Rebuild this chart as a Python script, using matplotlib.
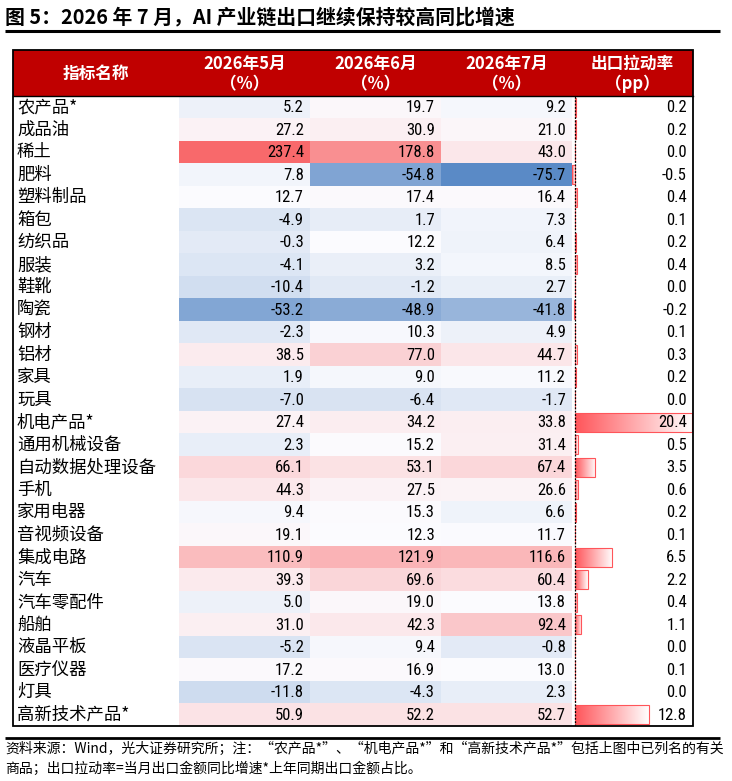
import numpy as np
import matplotlib
matplotlib.use('Agg')
import matplotlib.pyplot as plt
from matplotlib import font_manager as fm
from matplotlib.colors import LinearSegmentedColormap, TwoSlopeNorm
from matplotlib.patches import Rectangle

# ---------------- data ----------------
names = ['农产品*', '成品油', '稀土', '肥料', '塑料制品', '箱包', '纺织品', '服装', '鞋靴',
         '陶瓷', '钢材', '铝材', '家具', '玩具', '机电产品*', '通用机械设备', '自动数据处理设备',
         '手机', '家用电器', '音视频设备', '集成电路', '汽车', '汽车零配件', '船舶', '液晶平板',
         '医疗仪器', '灯具', '高新技术产品*']
may = [5.2, 27.2, 237.4, 7.8, 12.7, -4.9, -0.3, -4.1, -10.4, -53.2, -2.3, 38.5, 1.9, -7.0,
       27.4, 2.3, 66.1, 44.3, 9.4, 19.1, 110.9, 39.3, 5.0, 31.0, -5.2, 17.2, -11.8, 50.9]
jun = [19.7, 30.9, 178.8, -54.8, 17.4, 1.7, 12.2, 3.2, -1.2, -48.9, 10.3, 77.0, 9.0, -6.4,
       34.2, 15.2, 53.1, 27.5, 15.3, 12.3, 121.9, 69.6, 19.0, 42.3, 9.4, 16.9, -4.3, 52.2]
jul = [9.2, 21.0, 43.0, -75.7, 16.4, 7.3, 6.4, 8.5, 2.7, -41.8, 4.9, 44.7, 11.2, -1.7,
       33.8, 31.4, 67.4, 26.6, 6.6, 11.7, 116.6, 60.4, 13.8, 92.4, -0.8, 13.0, 2.3, 52.7]
pp = [0.2, 0.2, 0.0, -0.5, 0.4, 0.1, 0.2, 0.4, 0.0, -0.2, 0.1, 0.3, 0.2, 0.0,
      20.4, 0.5, 3.5, 0.6, 0.2, 0.1, 6.5, 2.2, 0.4, 1.1, 0.0, 0.1, 0.0, 12.8]
headers = ['指标名称', '2026年5月\n（%）', '2026年6月\n（%）', '2026年7月\n（%）', '出口拉动率\n（pp）']
title = '图 5：2026 年 7 月，AI 产业链出口继续保持较高同比增速'
note1 = '资料来源：Wind，光大证券研究所；注：“农产品*”、“机电产品*”和“高新技术产品*”包括上图中已列名的有关'
note2 = '商品；出口拉动率=当月出口金额同比增速*上年同期出口金额占比。'

# ---------------- fonts ----------------
CJK = ['Noto Sans CJK SC', 'DejaVu Sans']
plt.rcParams['font.family'] = CJK
avail = {f.name for f in fm.fontManager.ttflist}
numfont = next((f for f in ['Liberation Sans Narrow', 'Roboto Condensed', 'Liberation Sans']
                if f in avail), 'DejaVu Sans')

# ---------------- layout (pixels) ----------------
W, H = 732, 781
fig = plt.figure(figsize=(W / 100, H / 100), dpi=100)
ax = fig.add_axes([0, 0, 1, 1])
ax.set_xlim(0, W)
ax.set_ylim(H, 0)
ax.axis('off')
ax.set_zorder(10)


def sub_axes(x0, x1, y0, y1):
    a = fig.add_axes([x0 / W, 1 - y1 / H, (x1 - x0) / W, (y1 - y0) / H])
    a.axis('off')
    return a


edges = [13, 179, 310, 441, 572, 693]
HT, HB, BB = 50, 96, 726
n = len(names)
rh = (BB - HB) / n
red_hdr = '#C00000'

# title
ax.text(5, 17, title, fontsize=14.3, fontweight='bold', ha='left', va='center', color='black')
ax.plot([5, 720], [31, 31], color='black', lw=2.2, solid_capstyle='butt')

# header
ax.add_patch(Rectangle((edges[0], HT), edges[-1] - edges[0], HB - HT, fc=red_hdr, ec='none'))
for i, h in enumerate(headers):
    cx = (edges[i] + edges[i + 1]) / 2
    ax.text(cx, (HT + HB) / 2 + 1, h, color='white', fontsize=12, fontweight='bold',
            ha='center', va='center', linespacing=1.15)

# heatmap
data = np.array([may, jun, jul]).T
cmap = LinearSegmentedColormap.from_list('excel3', ['#5A8AC6', '#FCFCFF', '#F8696B'])
norm = TwoSlopeNorm(vmin=data.min(), vcenter=np.percentile(data, 50), vmax=data.max())
hax = sub_axes(edges[1], edges[4], HB, BB)
hax.imshow(data, cmap=cmap, norm=norm, aspect='auto', interpolation='nearest',
           extent=(-0.5, 2.5, n - 0.5, -0.5))
hax.set_xlim(-0.5, 2.5)
hax.set_ylim(n - 0.5, -0.5)

# data bars
bax = sub_axes(edges[4], edges[5], HB, BB)
bars = bax.barh(np.arange(n), pp, height=0.84, left=0, color='none',
                edgecolor='#FF555A', lw=0.8, zorder=3)
grad = np.linspace(0, 1, 256).reshape(1, -1)
gcmap = LinearSegmentedColormap.from_list('dbar', ['#FF555A', '#FFFFFF'])
for patch, v in zip(bars, pp):
    if v == 0:
        continue
    x0, y0 = patch.get_x(), patch.get_y()
    w, hh = patch.get_width(), patch.get_height()
    g = grad if v > 0 else grad[:, ::-1]
    im = bax.imshow(g, cmap=gcmap, aspect='auto', extent=(x0, x0 + w, y0 + hh, y0),
                    interpolation='bilinear', zorder=2)
    im.set_clip_path(patch)
bax.axvline(0, color='black', lw=0.9, ls=(0, (1.5, 1.2)), zorder=4)
bax.set_xlim(min(pp), max(pp) * 1.005)
bax.set_ylim(n - 0.5, -0.5)

# row texts
for r in range(n):
    cy = HB + (r + 0.5) * rh
    ax.text(17, cy, names[r], fontsize=12.5, ha='left', va='center', color='black')
    for j, col in enumerate([may, jun, jul, pp]):
        ax.text(edges[j + 2] - 6, cy + 0.5, f'{col[r]:.1f}', fontsize=12, family=numfont,
                ha='right', va='center', color='black', zorder=5)

# borders
ax.add_patch(Rectangle((edges[0], HT), edges[-1] - edges[0], BB - HT, fill=False,
                       ec='black', lw=1.3, zorder=6))
ax.plot([edges[0], edges[-1]], [HB, HB], color='black', lw=1.0, zorder=6)

# footnote
ax.plot([5, 720], [738, 738], color='black', lw=2.0, solid_capstyle='butt')
ax.text(5, 749, note1, fontsize=10, ha='left', va='center', color='black')
ax.text(5, 769, note2, fontsize=10, ha='left', va='center', color='black')

fig.savefig('out.png', dpi=100)
